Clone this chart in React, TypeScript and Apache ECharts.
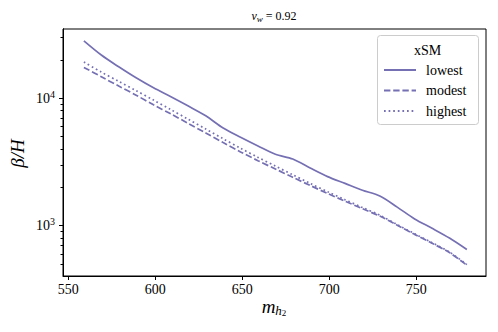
import React, { useEffect, useRef } from "react";
import * as echarts from "echarts";

const massValues = [559, 569, 579, 589, 599, 609, 619, 629, 639, 649, 659, 669, 679, 689, 699, 709, 719, 729, 739, 749, 759, 769, 779];
const lowestValues = [28300, 21900, 17700, 14500, 12100, 10300, 8700, 7300, 5850, 4950, 4230, 3640, 3340, 2840, 2430, 2150, 1900, 1710, 1400, 1130, 955, 800, 650];
const modestValues = [17500, 14800, 12500, 10600, 8900, 7550, 6350, 5350, 4500, 3800, 3240, 2790, 2400, 2070, 1790, 1560, 1360, 1190, 1010, 855, 728, 615, 490];
const highestValues = [19300, 16100, 13600, 11500, 9700, 8150, 6850, 5750, 4820, 4060, 3440, 2940, 2510, 2150, 1850, 1600, 1390, 1210, 1020, 865, 735, 622, 495];
const seriesNames = ["lowest", "modest", "highest"];
const xTickValues = [550, 600, 650, 700, 750];
const yMajorValues = [1000, 10000];
const yMinorValues = [500, 600, 700, 800, 900, 2000, 3000, 4000, 5000, 6000, 7000, 8000, 9000, 20000, 30000];

const FONT = "Liberation Serif";
const COLOR = "#7570b3";

export default function App() {
  const ref = useRef<HTMLDivElement>(null);
  useEffect(() => {
    if (!ref.current) return;
    const chart = echarts.init(ref.current, null, { renderer: "svg" });
    const lg = (v: number) => Math.log10(v);
    const yMin = 2.605;
    const yMax = 4.545;
    const mk = (vals: number[]) => massValues.map((m, i) => [m, lg(vals[i])]);
    const allSeries = [lowestValues, modestValues, highestValues];
    const dashTypes: any[] = ["solid", [6.4, 2.8], [1.7, 2.9]];
    const option: any = {
      animation: false,
      backgroundColor: "#fff",
      grid: {
        left: 63,
        top: 29,
        right: 12,
        bottom: 56,
        show: true,
        borderColor: "#000",
        borderWidth: 1,
        backgroundColor: "transparent",
      },
      xAxis: {
        type: "value",
        min: 547,
        max: 790,
        splitLine: { show: false },
        axisLine: { show: true, lineStyle: { color: "#000", width: 1 } },
        axisTick: { show: true, length: 4, customValues: xTickValues, lineStyle: { color: "#000", width: 1 } },
        axisLabel: {
          customValues: xTickValues,
          margin: 6,
          fontFamily: FONT,
          fontSize: 14,
          color: "#000",
        },
      },
      yAxis: [
        {
          type: "value",
          position: "left",
          min: yMin,
          max: yMax,
          splitLine: { show: false },
          axisLine: { show: true, lineStyle: { color: "#000", width: 1 } },
          axisTick: { show: true, length: 4, customValues: yMajorValues.map(lg), lineStyle: { color: "#000", width: 1 } },
          axisLabel: {
            customValues: yMajorValues.map(lg),
            margin: 8,
            formatter: (v: number) => `{b|10}{s|${Math.round(v)}}`,
            rich: {
              b: { fontFamily: FONT, fontSize: 14, color: "#000" },
              s: { fontFamily: FONT, fontSize: 10, color: "#000", padding: [0, 0, 8, 0] },
            },
          },
        },
        {
          type: "value",
          position: "left",
          offset: 0,
          min: yMin,
          max: yMax,
          splitLine: { show: false },
          axisLine: { show: true, lineStyle: { color: "#000", width: 1 } },
          axisTick: { show: true, length: 2.5, customValues: yMinorValues.map(lg), lineStyle: { color: "#000", width: 1 } },
          axisLabel: { show: false },
        },
      ],
      legend: {
        orient: "vertical",
        left: 383,
        top: 63,
        padding: 0,
        itemWidth: 32,
        itemHeight: 14,
        itemGap: 6.5,
        itemStyle: { opacity: 0 },
        textStyle: { fontFamily: FONT, fontSize: 14, color: "#000", padding: [0, 0, 0, 5] },
        data: seriesNames,
      },
      series: allSeries.map((vals, i) => ({
        name: seriesNames[i],
        type: "line",
        data: mk(vals),
        symbol: "none",
        smooth: 0.3,
        yAxisIndex: 0,
        lineStyle: { color: COLOR, width: 1.7, type: dashTypes[i] },
        itemStyle: { color: COLOR },
        z: 3,
      })),
      graphic: [
        {
          type: "rect",
          z: 1,
          shape: { x: 377.5, y: 35.5, width: 101, height: 89, r: 3 },
          style: { fill: "rgba(255,255,255,0.8)", stroke: "#cccccc", lineWidth: 1 },
        },
        {
          type: "text",
          z: 5,
          x: 427.5,
          y: 50,
          style: { text: "xSM", fontFamily: FONT, fontSize: 14, fill: "#000", align: "center", verticalAlign: "middle" },
        },
        {
          type: "text",
          z: 5,
          x: 274,
          y: 16,
          style: {
            text: "{i|v}{si|w}{n| = 0.92}",
            align: "center",
            verticalAlign: "middle",
            rich: {
              i: { fontFamily: FONT, fontStyle: "italic", fontSize: 12, fill: "#000" },
              si: { fontFamily: FONT, fontStyle: "italic", fontSize: 9, fill: "#000", padding: [5, 0, 0, 0] },
              n: { fontFamily: FONT, fontSize: 12, fill: "#000" },
            },
          },
        },
        {
          type: "text",
          z: 5,
          x: 274,
          y: 306,
          style: {
            text: "{i|m}{si|h}{ss|2}",
            align: "center",
            verticalAlign: "middle",
            rich: {
              i: { fontFamily: FONT, fontStyle: "italic", fontSize: 19, fill: "#000" },
              si: { fontFamily: FONT, fontStyle: "italic", fontSize: 13, fill: "#000", padding: [8, 0, 0, 0] },
              ss: { fontFamily: FONT, fontSize: 9, fill: "#000", padding: [14, 0, 0, 0] },
            },
          },
        },
        {
          type: "text",
          z: 5,
          x: 17.5,
          y: 153.5,
          rotation: Math.PI / 2,
          style: {
            text: "β/H",
            fontFamily: FONT,
            fontStyle: "italic",
            fontSize: 19,
            fill: "#000",
            align: "center",
            verticalAlign: "middle",
          },
        },
      ],
    };
    chart.setOption(option);
    return () => chart.dispose();
  }, []);
  return <div ref={ref} style={{ width: 498, height: 332, position: "absolute", left: 0, top: 0 }} />;
}
